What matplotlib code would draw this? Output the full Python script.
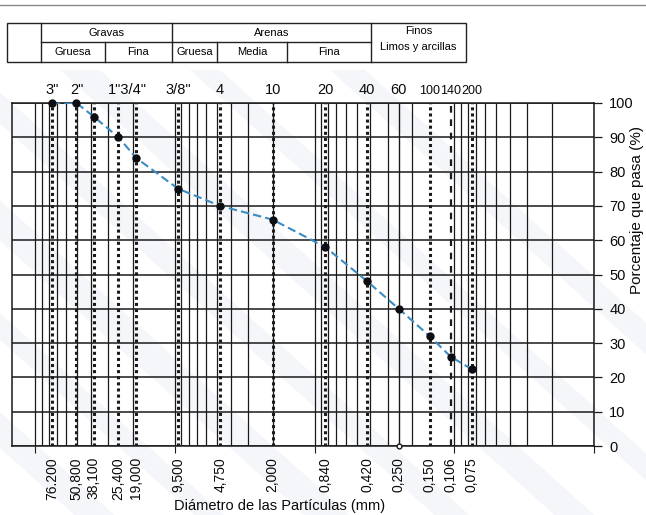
import numpy as np
import matplotlib
matplotlib.use("Agg")
import matplotlib.pyplot as plt
from matplotlib.patches import Polygon

plt.rcParams['font.family'] = ['Liberation Sans', 'DejaVu Sans']

# Sieve openings (mm) and percentage passing
diam_mm = [76.2, 50.8, 38.1, 25.4, 19.0, 9.5, 4.75, 2.0, 0.84, 0.42, 0.25, 0.15, 0.106, 0.075]
pct_passing = [100, 100, 96, 90, 84, 75, 70, 66, 58, 48, 40, 32, 26, 22.4]
diam_labels = ["76.200", "50,800", "38,100", "25,400", "19,000", "9,500", "4,750",
               "2,000", "0,840", "0,420", "0,250", "0,150", "0,106", "0,075"]

# Sieve designations printed above the grid
sieve_names = ['3"', '2"', '1"3/4"', '3/8"', '4', '10', '20', '40', '60', '100', '140', '200']
sieve_pos_mm = [76.2, 50.8, 21.97, 9.5, 4.75, 2.0, 0.84, 0.42, 0.25, 0.15, 0.106, 0.075]

# Stray reading at the 0,250 sieve on the zero line
extra_mm = [0.25]
extra_pct = [0]

y_ticks = [0, 10, 20, 30, 40, 50, 60, 70, 80, 90, 100]

# Soil classification header
group_names = ["Gravas", "Arenas"]
sub_names = ["Gruesa", "Fina", "Gruesa", "Media", "Fina"]
fines_lines = ["Finos", "Limos y arcillas"]

W, H = 646, 515
fig = plt.figure(figsize=(W / 100, H / 100), dpi=100)
fig.patch.set_facecolor('white')

# background layer: header table and faint diagonal watermark bands
bg = fig.add_axes([0, 0, 1, 1], zorder=0)
bg.set_xlim(0, W)
bg.set_ylim(H, 0)
bg.axis('off')
dx, dy = 1.0, 0.9
band_starts = [-420, -300, -190, -60, 60, 190, 330]
band_widths = [40, 30, 45, 35, 40, 30, 35]
for start, w in zip(band_starts, band_widths):
    y0 = 70
    length = 700
    pts = [(start, y0), (start + w, y0),
           (start + w + length * dx, y0 + length * dy), (start + length * dx, y0 + length * dy)]
    bg.add_patch(Polygon(pts, closed=True, facecolor='#bccbe0', edgecolor='none', alpha=0.16, zorder=0))

x_left, x_right, y_top, y_bot = 12, 594, 103, 446
ax = fig.add_axes([x_left / W, 1 - y_bot / H, (x_right - x_left) / W, (y_bot - y_top) / H], zorder=1)
ax.patch.set_alpha(0)
ax.set_xscale('log')
ax.set_xlim(147, 0.01)
ax.set_ylim(0, 100)

# log grid: every 1..9 x 10^k line
grid_vals = [m * 10.0 ** k for k in range(-2, 3) for m in range(1, 10)]
for g in grid_vals:
    if 0.01 <= g <= 147:
        ax.axvline(g, color='#1a1a1a', lw=0.9, zorder=1)
for yv in y_ticks:
    ax.axhline(yv, color='#1a1a1a', lw=1.1, zorder=1)

# sieve lines
for d in diam_mm:
    if d == 0.25:
        ax.axvline(d, color='#1a1a1a', lw=1.0, zorder=2)
    elif d == 0.106:
        ax.axvline(d, color='#1a1a1a', lw=1.6, ls=(0, (3, 3)), zorder=2)
    else:
        ax.axvline(d, color='#1a1a1a', lw=2.2, ls=(0, (1, 1)), zorder=2)

# grading curve
ax.plot(diam_mm, pct_passing, color='#3a8cc4', lw=1.5, ls=(0, (4, 2)), zorder=4)
ax.plot(diam_mm, pct_passing, ls='none', marker='o', ms=5, color='#0d0d14', zorder=5, clip_on=False)
ax.plot(extra_mm, extra_pct, ls='none', marker='o', ms=3.5, mfc='white', mec='#1a1a1a',
        mew=1.0, zorder=5, clip_on=False)

for s in ax.spines.values():
    s.set_color('#1a1a1a')
    s.set_linewidth(1.1)

# x tick labels (rotated diameters)
ax.set_xticks(diam_mm)
ax.set_xticklabels(diam_labels, rotation=90, fontsize=10, color='#0a0a0a')
ax.tick_params(axis='x', which='major', length=0, pad=8)
ax.set_xticks([100, 10, 1, 0.1, 0.01], minor=True)
ax.set_xticklabels([], minor=True)
ax.tick_params(axis='x', which='minor', length=5, width=0.8, color='#1a1a1a')

ax.yaxis.tick_right()
ax.set_yticks(y_ticks)
ax.set_yticklabels([str(v) for v in y_ticks], fontsize=10.5, color='#0a0a0a')
ax.tick_params(axis='y', length=6, width=0.9, pad=5, color='#1a1a1a')
ax.tick_params(axis='y', which='minor', length=0)

# sieve names above the grid; the three finest sit tightly packed
for name, pos in zip(sieve_names, sieve_pos_mm):
    fs = 9 if pos < 0.2 else 10.5
    ax.text(pos, 101.8, name, ha='center', va='bottom', fontsize=fs, color='#0a0a0a',
            transform=ax.transData, clip_on=False)

fig.text(280 / W, 1 - 506 / H, "Diámetro de las Partículas (mm)", ha='center', va='center',
         fontsize=10.5, color='#0a0a0a')
fig.text(637 / W, 1 - 210 / H, "Porcentaje que pasa (%)", ha='center', va='center',
         rotation=90, fontsize=11, color='#0a0a0a')

# header table drawn in pixel coordinates
bg.plot([0, W], [5, 5], color='#888888', lw=1.0)
xt = [7, 41, 105, 172, 217, 287, 371, 466]
yt = [23, 42, 62]
lc = '#222222'
bg.add_patch(plt.Rectangle((xt[0], yt[0]), xt[-1] - xt[0], yt[2] - yt[0], facecolor='white',
                           edgecolor=lc, lw=1.0, zorder=2))
bg.plot([xt[1], xt[6]], [yt[1], yt[1]], color=lc, lw=1.0, zorder=3)
for xv in [xt[1], xt[3], xt[6]]:
    bg.plot([xv, xv], [yt[0], yt[2]], color=lc, lw=1.0, zorder=3)
for xv in [xt[2], xt[4], xt[5]]:
    bg.plot([xv, xv], [yt[1], yt[2]], color=lc, lw=1.0, zorder=3)
fs_tab = 8
bg.text((xt[1] + xt[3]) / 2, 32.5, group_names[0], ha='center', va='center', fontsize=fs_tab, zorder=4)
bg.text((xt[3] + xt[6]) / 2, 32.5, group_names[1], ha='center', va='center', fontsize=fs_tab, zorder=4)
sub_edges = [xt[1], xt[2], xt[3], xt[4], xt[5], xt[6]]
for i, name in enumerate(sub_names):
    bg.text((sub_edges[i] + sub_edges[i + 1]) / 2, 52, name, ha='center', va='center',
            fontsize=fs_tab, zorder=4)
bg.text((xt[6] + xt[7]) / 2, 31, fines_lines[0], ha='center', va='center', fontsize=fs_tab, zorder=4)
bg.text((xt[6] + xt[7]) / 2, 47, fines_lines[1], ha='center', va='center', fontsize=fs_tab, zorder=4)

fig.savefig("out.png", dpi=100, facecolor='white')
